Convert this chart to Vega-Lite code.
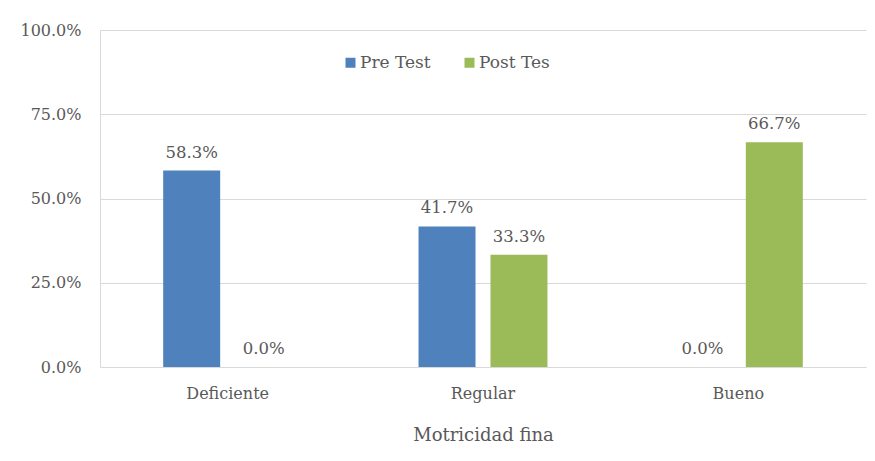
{
  "$schema": "https://vega.github.io/schema/vega-lite/v6.json",
  "width": 766,
  "height": 337,
  "autosize": {"type": "none"},
  "padding": {"left": 100, "top": 30, "right": 9, "bottom": 94},
  "background": "white",
  "config": {
    "font": "DejaVu Serif",
    "view": {"stroke": null},
    "axis": {"labelFont": "DejaVu Serif", "titleFont": "DejaVu Serif", "labelColor": "#595959", "titleColor": "#595959", "gridColor": "#d9d9d9", "domainColor": "#d9d9d9"}
  },
  "data": {
    "values": [
      {"nivel": "Deficiente", "grupo": "Pre Test", "valor": 0.583},
      {"nivel": "Deficiente", "grupo": "Post Tes", "valor": 0.0},
      {"nivel": "Regular", "grupo": "Pre Test", "valor": 0.417},
      {"nivel": "Regular", "grupo": "Post Tes", "valor": 0.333},
      {"nivel": "Bueno", "grupo": "Pre Test", "valor": 0.0},
      {"nivel": "Bueno", "grupo": "Post Tes", "valor": 0.667}
    ]
  },
  "encoding": {
    "x": {
      "field": "nivel",
      "type": "nominal",
      "sort": ["Deficiente", "Regular", "Bueno"],
      "scale": {"paddingInner": 0.495, "paddingOuter": 0.2475},
      "axis": {
        "title": "Motricidad fina",
        "labelAngle": 0,
        "labelFontSize": 16,
        "labelPadding": 18,
        "ticks": false,
        "tickSize": 0,
        "titleFontSize": 18,
        "titleFontWeight": "normal",
        "titlePadding": 25,
        "domainColor": "#d9d9d9"
      }
    },
    "xOffset": {
      "field": "grupo",
      "type": "nominal",
      "sort": ["Pre Test", "Post Tes"],
      "scale": {"paddingInner": 0.208, "paddingOuter": 0}
    },
    "y": {
      "field": "valor",
      "type": "quantitative",
      "scale": {"domain": [0, 1]},
      "axis": {
        "title": null,
        "format": ".1%",
        "values": [0, 0.25, 0.5, 0.75, 1],
        "labelFontSize": 16,
        "labelPadding": 19,
        "ticks": false,
        "tickSize": 0,
        "grid": true,
        "gridColor": "#d9d9d9",
        "domain": true
      }
    }
  },
  "layer": [
    {
      "mark": {"type": "bar"},
      "encoding": {
        "color": {
          "field": "grupo",
          "type": "nominal",
          "sort": ["Pre Test", "Post Tes"],
          "scale": {"domain": ["Pre Test", "Post Tes"], "range": ["#4F81BD", "#9BBB59"]},
          "legend": {
            "title": null,
            "orient": "none",
            "legendX": 242,
            "legendY": 24,
            "direction": "horizontal",
            "symbolType": "square",
            "symbolSize": 100,
            "symbolStrokeWidth": 0,
            "symbolOpacity": 1,
            "labelFontSize": 17,
            "labelColor": "#595959",
            "labelFont": "DejaVu Serif",
            "labelOffset": 1,
            "columnPadding": 30
          }
        }
      }
    },
    {
      "mark": {"type": "text", "baseline": "bottom", "dy": -10, "fontSize": 16.5, "color": "#595959", "font": "DejaVu Serif"},
      "encoding": {
        "text": {"field": "valor", "type": "quantitative", "format": ".1%"}
      }
    }
  ]
}
